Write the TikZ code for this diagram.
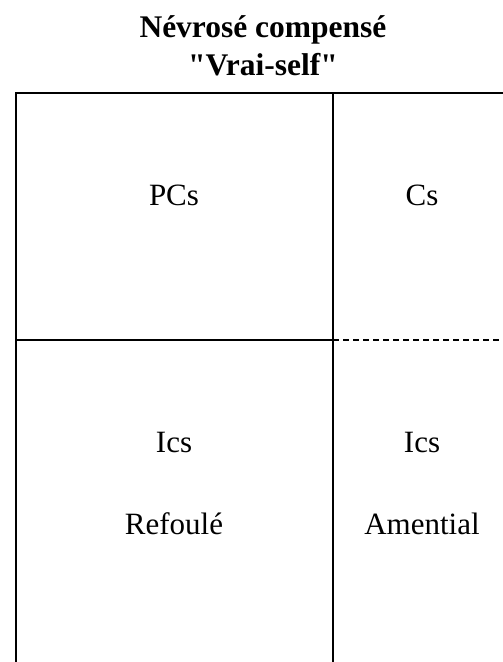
\documentclass[tikz,border=0pt]{standalone}
\usepackage{fontspec}
\setmainfont{Liberation Serif}[Ligatures=TeXOff]
\begin{document}
\begin{tikzpicture}[x=1pt,y=-1pt,
  frame/.style={line width=1.8pt,line cap=rect},
  dashline/.style={line width=1.8pt,dash pattern=on 6pt off 4pt},
  lbl/.style={inner sep=0pt,anchor=base,font=\fontsize{31}{36}\selectfont},
  ttl/.style={inner sep=0pt,anchor=base,font=\fontsize{31.5}{36}\selectfont\bfseries}]
\useasboundingbox[fill=white] (0,0) rectangle (503,662);
% title
\node[ttl] (t1) at (263,37) {Névrosé compensé};
\node[ttl] (t2) at (263,75) {"Vrai-self"};
% frame coordinates
\coordinate (tl) at (16,93);
\coordinate (tm) at (333,93);
\coordinate (tr) at (503,93);
\coordinate (ml) at (16,340);
\coordinate (mm) at (333,340);
\coordinate (mr) at (503,340);
\coordinate (bl) at (16,662);
\coordinate (bm) at (333,662);
\draw[frame] (tr) -- (tl) -- (bl);
\draw[frame] (tm) -- (bm);
\draw[frame] (ml) -- (mm);
\draw[dashline] (mm) -- (mr);
% labels
\node[lbl] (pcs) at (174,205) {PCs};
\node[lbl] (cs) at (422,205) {Cs};
\node[lbl] (ics1) at (174,452) {Ics};
\node[lbl] (ref) at (174,534) {Refoulé};
\node[lbl] (ics2) at (422,452) {Ics};
\node[lbl] (ame) at (422,534) {Amential};
\end{tikzpicture}
\end{document}
